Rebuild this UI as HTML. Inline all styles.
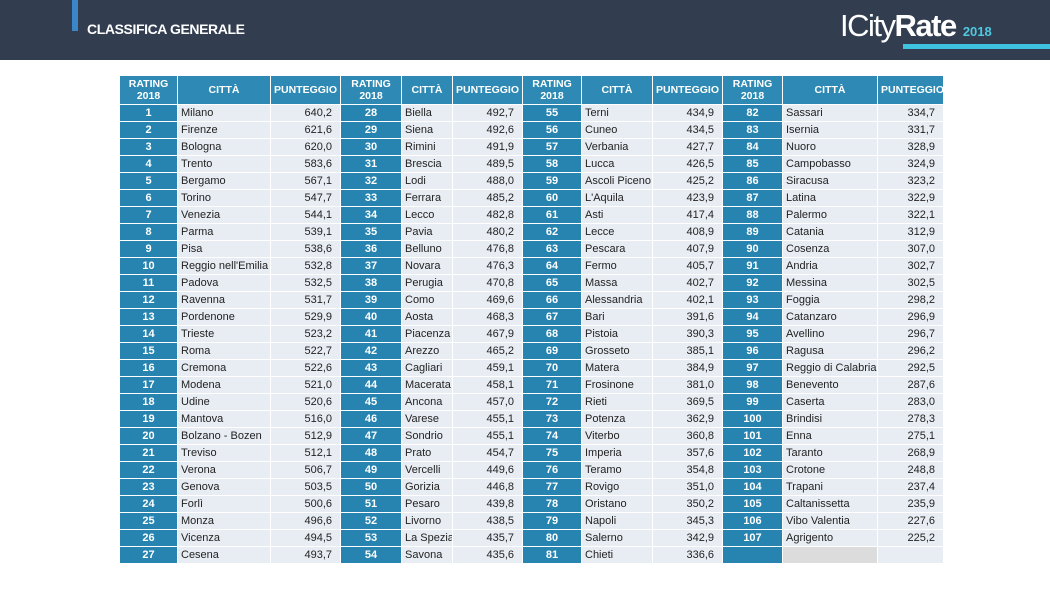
<!DOCTYPE html>
<html><head><meta charset="utf-8"><style>
body{margin:0;width:1050px;height:591px;background:#fff;position:relative;overflow:hidden;font-family:"Liberation Sans",sans-serif}
.band{position:absolute;left:0;top:0;width:1050px;height:60px;background:#323e50}
.acc{position:absolute;left:72px;top:0;width:6px;height:31px;background:#3a86c8}
.title{position:absolute;left:87px;top:21px;color:#fff;font-weight:bold;font-size:14px;letter-spacing:-0.4px}
.logo{position:absolute;left:840px;top:8px;color:#fff;font-size:31px;letter-spacing:-1.5px}
.logo b{font-weight:bold}
.logo small{font-size:13px;color:#4fc8e0;font-weight:bold;letter-spacing:0}
.cy{position:absolute;left:903px;top:44px;width:147px;height:5px;background:#3ec4e0}
table{position:absolute;left:119px;top:75px;width:824px;border-collapse:collapse;table-layout:fixed;font-size:11px}
td,th{border:1px solid #fff;padding:0 3px;height:16px;line-height:16px;white-space:nowrap;overflow:hidden}
th{background:#2e8ab4;color:#fff;font-size:10.5px;height:28px;line-height:12px;font-weight:bold}
td{background:#e8edf4;color:#222}
td.r{background:#2784b0;color:#fff;font-weight:bold;text-align:center}
td.p{text-align:right;padding-right:8px}
td.e{background:#dcdcdc}
</style></head><body>
<div class="band"></div><div class="acc"></div>
<div class="title">CLASSIFICA GENERALE</div>
<div class="logo">ICity<b>Rate</b> <small>2018</small></div>
<div class="cy"></div>
<table>
<colgroup><col style="width:58px"><col style="width:93px"><col style="width:70px"><col style="width:61px"><col style="width:51px"><col style="width:70px"><col style="width:59px"><col style="width:71px"><col style="width:70px"><col style="width:60px"><col style="width:95px"><col style="width:66px"></colgroup>
<tr><th>RATING<br>2018</th><th>CITTÀ</th><th>PUNTEGGIO</th><th>RATING<br>2018</th><th>CITTÀ</th><th>PUNTEGGIO</th><th>RATING<br>2018</th><th>CITTÀ</th><th>PUNTEGGIO</th><th>RATING<br>2018</th><th>CITTÀ</th><th>PUNTEGGIO</th></tr>
<tr><td class="r">1</td><td>Milano</td><td class="p">640,2</td><td class="r">28</td><td>Biella</td><td class="p">492,7</td><td class="r">55</td><td>Terni</td><td class="p">434,9</td><td class="r">82</td><td>Sassari</td><td class="p">334,7</td></tr>
<tr><td class="r">2</td><td>Firenze</td><td class="p">621,6</td><td class="r">29</td><td>Siena</td><td class="p">492,6</td><td class="r">56</td><td>Cuneo</td><td class="p">434,5</td><td class="r">83</td><td>Isernia</td><td class="p">331,7</td></tr>
<tr><td class="r">3</td><td>Bologna</td><td class="p">620,0</td><td class="r">30</td><td>Rimini</td><td class="p">491,9</td><td class="r">57</td><td>Verbania</td><td class="p">427,7</td><td class="r">84</td><td>Nuoro</td><td class="p">328,9</td></tr>
<tr><td class="r">4</td><td>Trento</td><td class="p">583,6</td><td class="r">31</td><td>Brescia</td><td class="p">489,5</td><td class="r">58</td><td>Lucca</td><td class="p">426,5</td><td class="r">85</td><td>Campobasso</td><td class="p">324,9</td></tr>
<tr><td class="r">5</td><td>Bergamo</td><td class="p">567,1</td><td class="r">32</td><td>Lodi</td><td class="p">488,0</td><td class="r">59</td><td>Ascoli Piceno</td><td class="p">425,2</td><td class="r">86</td><td>Siracusa</td><td class="p">323,2</td></tr>
<tr><td class="r">6</td><td>Torino</td><td class="p">547,7</td><td class="r">33</td><td>Ferrara</td><td class="p">485,2</td><td class="r">60</td><td>L'Aquila</td><td class="p">423,9</td><td class="r">87</td><td>Latina</td><td class="p">322,9</td></tr>
<tr><td class="r">7</td><td>Venezia</td><td class="p">544,1</td><td class="r">34</td><td>Lecco</td><td class="p">482,8</td><td class="r">61</td><td>Asti</td><td class="p">417,4</td><td class="r">88</td><td>Palermo</td><td class="p">322,1</td></tr>
<tr><td class="r">8</td><td>Parma</td><td class="p">539,1</td><td class="r">35</td><td>Pavia</td><td class="p">480,2</td><td class="r">62</td><td>Lecce</td><td class="p">408,9</td><td class="r">89</td><td>Catania</td><td class="p">312,9</td></tr>
<tr><td class="r">9</td><td>Pisa</td><td class="p">538,6</td><td class="r">36</td><td>Belluno</td><td class="p">476,8</td><td class="r">63</td><td>Pescara</td><td class="p">407,9</td><td class="r">90</td><td>Cosenza</td><td class="p">307,0</td></tr>
<tr><td class="r">10</td><td>Reggio nell'Emilia</td><td class="p">532,8</td><td class="r">37</td><td>Novara</td><td class="p">476,3</td><td class="r">64</td><td>Fermo</td><td class="p">405,7</td><td class="r">91</td><td>Andria</td><td class="p">302,7</td></tr>
<tr><td class="r">11</td><td>Padova</td><td class="p">532,5</td><td class="r">38</td><td>Perugia</td><td class="p">470,8</td><td class="r">65</td><td>Massa</td><td class="p">402,7</td><td class="r">92</td><td>Messina</td><td class="p">302,5</td></tr>
<tr><td class="r">12</td><td>Ravenna</td><td class="p">531,7</td><td class="r">39</td><td>Como</td><td class="p">469,6</td><td class="r">66</td><td>Alessandria</td><td class="p">402,1</td><td class="r">93</td><td>Foggia</td><td class="p">298,2</td></tr>
<tr><td class="r">13</td><td>Pordenone</td><td class="p">529,9</td><td class="r">40</td><td>Aosta</td><td class="p">468,3</td><td class="r">67</td><td>Bari</td><td class="p">391,6</td><td class="r">94</td><td>Catanzaro</td><td class="p">296,9</td></tr>
<tr><td class="r">14</td><td>Trieste</td><td class="p">523,2</td><td class="r">41</td><td>Piacenza</td><td class="p">467,9</td><td class="r">68</td><td>Pistoia</td><td class="p">390,3</td><td class="r">95</td><td>Avellino</td><td class="p">296,7</td></tr>
<tr><td class="r">15</td><td>Roma</td><td class="p">522,7</td><td class="r">42</td><td>Arezzo</td><td class="p">465,2</td><td class="r">69</td><td>Grosseto</td><td class="p">385,1</td><td class="r">96</td><td>Ragusa</td><td class="p">296,2</td></tr>
<tr><td class="r">16</td><td>Cremona</td><td class="p">522,6</td><td class="r">43</td><td>Cagliari</td><td class="p">459,1</td><td class="r">70</td><td>Matera</td><td class="p">384,9</td><td class="r">97</td><td>Reggio di Calabria</td><td class="p">292,5</td></tr>
<tr><td class="r">17</td><td>Modena</td><td class="p">521,0</td><td class="r">44</td><td>Macerata</td><td class="p">458,1</td><td class="r">71</td><td>Frosinone</td><td class="p">381,0</td><td class="r">98</td><td>Benevento</td><td class="p">287,6</td></tr>
<tr><td class="r">18</td><td>Udine</td><td class="p">520,6</td><td class="r">45</td><td>Ancona</td><td class="p">457,0</td><td class="r">72</td><td>Rieti</td><td class="p">369,5</td><td class="r">99</td><td>Caserta</td><td class="p">283,0</td></tr>
<tr><td class="r">19</td><td>Mantova</td><td class="p">516,0</td><td class="r">46</td><td>Varese</td><td class="p">455,1</td><td class="r">73</td><td>Potenza</td><td class="p">362,9</td><td class="r">100</td><td>Brindisi</td><td class="p">278,3</td></tr>
<tr><td class="r">20</td><td>Bolzano - Bozen</td><td class="p">512,9</td><td class="r">47</td><td>Sondrio</td><td class="p">455,1</td><td class="r">74</td><td>Viterbo</td><td class="p">360,8</td><td class="r">101</td><td>Enna</td><td class="p">275,1</td></tr>
<tr><td class="r">21</td><td>Treviso</td><td class="p">512,1</td><td class="r">48</td><td>Prato</td><td class="p">454,7</td><td class="r">75</td><td>Imperia</td><td class="p">357,6</td><td class="r">102</td><td>Taranto</td><td class="p">268,9</td></tr>
<tr><td class="r">22</td><td>Verona</td><td class="p">506,7</td><td class="r">49</td><td>Vercelli</td><td class="p">449,6</td><td class="r">76</td><td>Teramo</td><td class="p">354,8</td><td class="r">103</td><td>Crotone</td><td class="p">248,8</td></tr>
<tr><td class="r">23</td><td>Genova</td><td class="p">503,5</td><td class="r">50</td><td>Gorizia</td><td class="p">446,8</td><td class="r">77</td><td>Rovigo</td><td class="p">351,0</td><td class="r">104</td><td>Trapani</td><td class="p">237,4</td></tr>
<tr><td class="r">24</td><td>Forlì</td><td class="p">500,6</td><td class="r">51</td><td>Pesaro</td><td class="p">439,8</td><td class="r">78</td><td>Oristano</td><td class="p">350,2</td><td class="r">105</td><td>Caltanissetta</td><td class="p">235,9</td></tr>
<tr><td class="r">25</td><td>Monza</td><td class="p">496,6</td><td class="r">52</td><td>Livorno</td><td class="p">438,5</td><td class="r">79</td><td>Napoli</td><td class="p">345,3</td><td class="r">106</td><td>Vibo Valentia</td><td class="p">227,6</td></tr>
<tr><td class="r">26</td><td>Vicenza</td><td class="p">494,5</td><td class="r">53</td><td>La Spezia</td><td class="p">435,7</td><td class="r">80</td><td>Salerno</td><td class="p">342,9</td><td class="r">107</td><td>Agrigento</td><td class="p">225,2</td></tr>
<tr><td class="r">27</td><td>Cesena</td><td class="p">493,7</td><td class="r">54</td><td>Savona</td><td class="p">435,6</td><td class="r">81</td><td>Chieti</td><td class="p">336,6</td><td class="r"></td><td class="e"></td><td></td></tr>
</table>
</body></html>
